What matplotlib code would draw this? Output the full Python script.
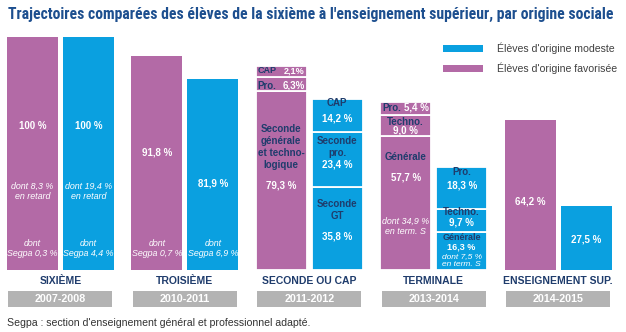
import matplotlib
matplotlib.use("Agg")
import matplotlib.pyplot as plt
import matplotlib.transforms as mtransforms
from matplotlib import font_manager as fm
from matplotlib.patches import Rectangle
import numpy as np

plt.rcParams['font.family'] = ['Liberation Sans', 'DejaVu Sans']

# --- data -------------------------------------------------------------
stages = ["SIXIÈME", "TROISIÈME", "SECONDE OU CAP", "TERMINALE", "ENSEIGNEMENT SUP."]
years = ["2007-2008", "2010-2011", "2011-2012", "2013-2014", "2014-2015"]

# stacked segments, from the bottom up
fav_segments = [[100.0], [91.8], [79.3, 6.3, 2.1], [57.7, 9.0, 5.4], [64.2]]
mod_segments = [[100.0], [81.9], [35.8, 23.4, 14.2], [16.3, 9.7, 18.3], [27.5]]

PURPLE = "#b36aa6"
BLUE = "#0aa0e0"
NAVY = "#1f3c6c"
GREY = "#b3b3b3"


def shown_heights(segs, floor=4.7):
    # very thin segments are drawn a little taller so their label fits,
    # the largest segment gives up the difference (total stays the same)
    segs = list(segs)
    if len(segs) == 1:
        return segs
    bump = sum(max(floor - s, 0) for s in segs)
    out = [max(s, floor) for s in segs]
    out[int(np.argmax(segs))] -= bump
    return out


def narrow_bold_font():
    # look for a condensed bold sans face among the installed fonts
    best, best_rank = None, 99
    prefs = ["notosans-condensedbold", "robotocondensed-bold", "liberationsansnarrow-bold",
             "opensans_condensed-bold", "opensans-condensedbold", "notosans-semicondensedbold",
             "notosans-condensedextrabold"]
    for f in fm.fontManager.ttflist:
        base = f.fname.lower().replace("\\", "/").split("/")[-1]
        if "italic" in base or "mono" in base or "serif" in base:
            continue
        for r, p in enumerate(prefs):
            if base.startswith(p) and r < best_rank:
                best, best_rank = f.fname, r
    return best


fig = plt.figure(figsize=(6.26, 3.32), dpi=100)
ax = fig.add_axes([0, 62 / 332, 1, 233 / 332])
ax.set_xlim(-0.486, 4.546)
ax.set_ylim(0, 100)
ax.axis("off")

x = np.arange(len(stages))
off, w = 0.225, 0.41

for i in x:
    for segs, dx, col in ((fav_segments[i], -off, PURPLE), (mod_segments[i], off, BLUE)):
        h = shown_heights(segs)
        bottom = 0
        stacked = len(h) > 1
        for v in h:
            ax.bar(i + dx, v, w, bottom=bottom, color=col,
                   edgecolor="white" if stacked else col,
                   linewidth=1.3 if stacked else 0)
            bottom += v

# --- labels inside the bars ------------------------------------------
W = dict(color="white", ha="center", va="center", fontsize=7)
WB = dict(W, fontweight="bold")
WI = dict(W, style="italic", fontsize=6.4)
NB = dict(color=NAVY, ha="center", va="center", fontsize=7, fontweight="bold")
SM = dict(fontsize=6.5)

# sixième
for dx, pct, late, segpa in ((-off, "100 %", "dont 8,3 %\nen retard", "dont\nSegpa 0,3 %"),
                             (off, "100 %", "dont 19,4 %\nen retard", "dont\nSegpa 4,4 %")):
    ax.text(0 + dx, 61.8, pct, **WB)
    ax.text(0 + dx, 33.9, late, linespacing=1.15, **WI)
    ax.text(0 + dx, 9.2, segpa, linespacing=1.15, **WI)

# troisième
ax.text(1 - off, 50.6, "91,8 %", **WB)
ax.text(1 + off, 37.3, "81,9 %", **WB)
ax.text(1 - off, 9.2, "dont\nSegpa 0,7 %", linespacing=1.15, **WI)
ax.text(1 + off, 9.2, "dont\nSegpa 6,9 %", linespacing=1.15, **WI)

# seconde ou CAP
l2, r2 = 2 - off - w / 2 + 0.015, 2 - off + w / 2 - 0.015
ax.text(l2, 85.6, "CAP", **dict(NB, ha="left", **SM))
ax.text(r2, 85.6, "2,1%", **dict(WB, ha="right", **SM))
ax.text(l2, 79.0, "Pro.", **dict(NB, ha="left"))
ax.text(r2, 79.0, "6,3%", **dict(WB, ha="right"))
ax.text(2 - off, 52.8, "Seconde\ngénérale\net techno-\nlogique", linespacing=1.25, **NB)
ax.text(2 - off, 36.1, "79,3 %", **WB)
ax.text(2 + off, 71.7, "CAP", **NB)
ax.text(2 + off, 65.2, "14,2 %", **WB)
ax.text(2 + off, 52.8, "Seconde\npro.", linespacing=1.2, **NB)
ax.text(2 + off, 45.1, "23,4 %", **WB)
ax.text(2 + off, 25.8, "Seconde\nGT", linespacing=1.2, **NB)
ax.text(2 + off, 14.2, "35,8 %", **WB)

# terminale
l3, r3 = 3 - off - w / 2 + 0.02, 3 - off + w / 2 - 0.015
ax.text(l3, 69.6, "Pro.", **dict(NB, ha="left"))
ax.text(r3, 69.6, "5,4 %", **dict(WB, ha="right"))
ax.text(3 - off, 63.7, "Techno.", **NB)
ax.text(3 - off, 59.8, "9,0 %", **WB)
ax.text(3 - off, 48.5, "Générale", **NB)
ax.text(3 - off, 39.9, "57,7 %", **WB)
ax.text(3 - off, 18.7, "dont 34,9 %\nen term. S", linespacing=1.15, **WI)
ax.text(3 + off, 42.1, "Pro.", **NB)
ax.text(3 + off, 36.1, "18,3 %", **WB)
ax.text(3 + off, 24.9, "Techno.", **NB)
ax.text(3 + off, 20.2, "9,7 %", **WB)
ax.text(3 + off, 14.0, "Générale", **dict(NB, **SM))
ax.text(3 + off, 9.9, "16,3 %", **dict(WB, **SM))
ax.text(3 + off, 5.8, "dont 7,5 %", **dict(WI, fontsize=6))
ax.text(3 + off, 2.2, "en term. S", **dict(WI, fontsize=6))

# enseignement supérieur
ax.text(4 - off, 29.2, "64,2 %", **WB)
ax.text(4 + off, 12.9, "27,5 %", **WB)

# --- stage names and year boxes ---------------------------------------
trans = mtransforms.blended_transform_factory(ax.transData, ax.transAxes)
for i in x:
    ax.text(i, -0.047, stages[i], transform=trans, ha="center", va="center",
            fontsize=7.5, fontweight="bold", color=NAVY)
    ax.add_patch(Rectangle((i - 0.418, -0.159), 0.836, 0.069, transform=trans,
                           facecolor=GREY, edgecolor="none", clip_on=False))
    ax.text(i, -0.1245, years[i], transform=trans, ha="center", va="center",
            fontsize=7.7, fontweight="bold", color="white")

# --- legend ------------------------------------------------------------
for y_px, col, lab in ((48.5, BLUE, "Élèves d'origine modeste"),
                       (68.5, PURPLE, "Élèves d'origine favorisée")):
    fig.patches.append(Rectangle((443 / 626, 1 - (y_px + 3.5) / 332), 40 / 626, 7 / 332,
                                 transform=fig.transFigure, facecolor=col,
                                 edgecolor="none"))
    fig.text(497 / 626, 1 - y_px / 332, lab, ha="left", va="center",
             fontsize=7.6, color="#404040")

# --- title and note ----------------------------------------------------
title_text = "Trajectoires comparées des élèves de la sixième à l'enseignement supérieur, par origine sociale"
narrow = narrow_bold_font()
if narrow:
    tprops = fm.FontProperties(fname=narrow, size=11.5)
else:
    tprops = fm.FontProperties(family="Liberation Sans", weight="bold", size=11.5)
title = fig.text(8 / 626, 1 - 14 / 332, title_text, ha="left", va="center",
                 color="#1d4f8f", fontproperties=tprops)
# shrink the title until it fits the width used in the original
renderer = fig.canvas.get_renderer()
while title.get_window_extent(renderer).width > 609 and title.get_fontsize() > 6:
    title.set_fontsize(title.get_fontsize() - 0.1)

fig.text(7 / 626, 1 - 323 / 332,
         "Segpa : section d'enseignement général et professionnel adapté.",
         ha="left", va="center", fontsize=7.6, color="#333333")

fig.savefig("out.png", dpi=100)
